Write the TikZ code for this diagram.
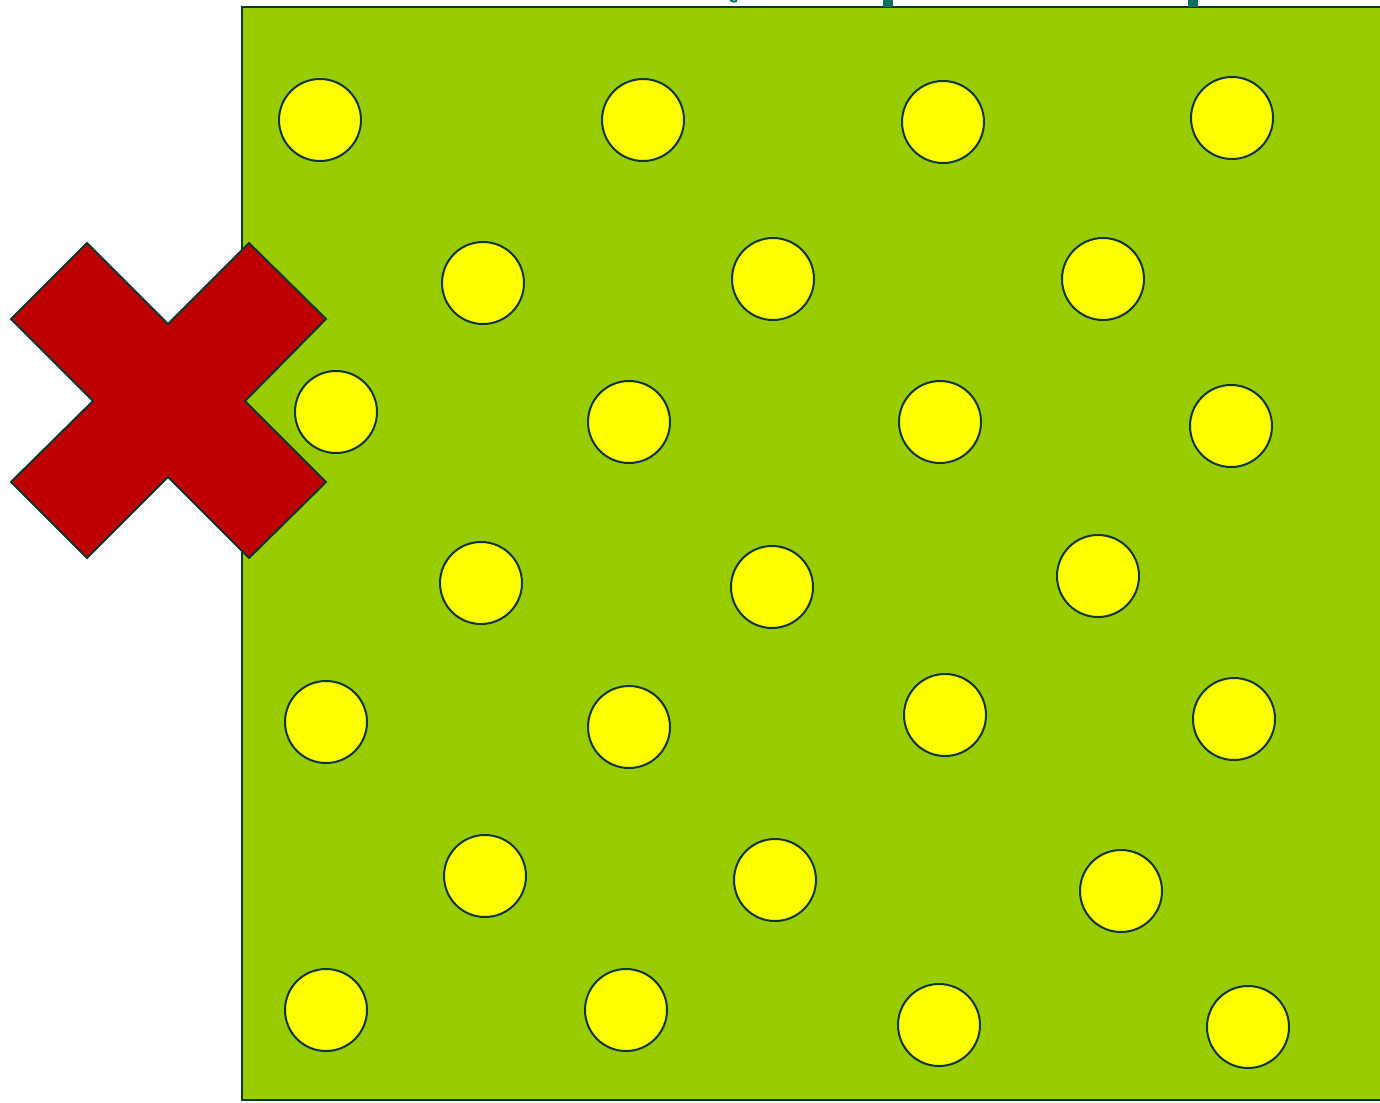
\documentclass[tikz,border=0pt]{standalone}
\begin{document}
\begin{tikzpicture}[x=1pt,y=-1pt,
  edge/.style={draw=strokec,line width=2pt,line join=miter},
  dot/.style={circle,minimum size=82pt,inner sep=0pt,fill=yellowc,draw=strokec,line width=2pt}]
\definecolor{greenc}{HTML}{99CC00}
\definecolor{yellowc}{HTML}{FFFF00}
\definecolor{redc}{HTML}{BF0000}
\definecolor{strokec}{HTML}{0E3530}
\definecolor{tealc}{HTML}{0B6E5F}
\useasboundingbox (0,0) rectangle (1380,1102);
% field
\path[edge,fill=greenc] (1390,7) -- (242,7) -- (242,1100) -- (1390,1100);
% teal marks at top
\fill[tealc] (883,0) rectangle (893,7);
\fill[tealc] (1188,0) rectangle (1198,7);
\draw[tealc,line width=2pt] (730,0) .. controls (732,2) and (735,2) .. (737,1);
% dots
\foreach \n/\x/\y in {a1/320/120,a2/643/120,a3/943/122,a4/1232/118,
  b1/483/283,b2/773/279,b3/1103/279,
  c1/336/412,c2/629/422,c3/940/422,c4/1231/426,
  d1/481/583,d2/772/587,d3/1098/576,
  e1/326/722,e2/629/727,e3/945/715,e4/1234/719,
  f1/485/876,f2/775/880,f3/1121/891,
  g1/326/1010,g2/626/1010,g3/939/1025,g4/1248/1027}
  \node[dot] (\n) at (\x,\y) {};
% cross
\path[edge,fill=redc] (87,243) -- (168,324) -- (249,243) -- (326,319) -- (245,401)
  -- (326,482) -- (249,558) -- (168,477) -- (87,558) -- (11,482) -- (93,401)
  -- (11,319) -- cycle;
\end{tikzpicture}
\end{document}
